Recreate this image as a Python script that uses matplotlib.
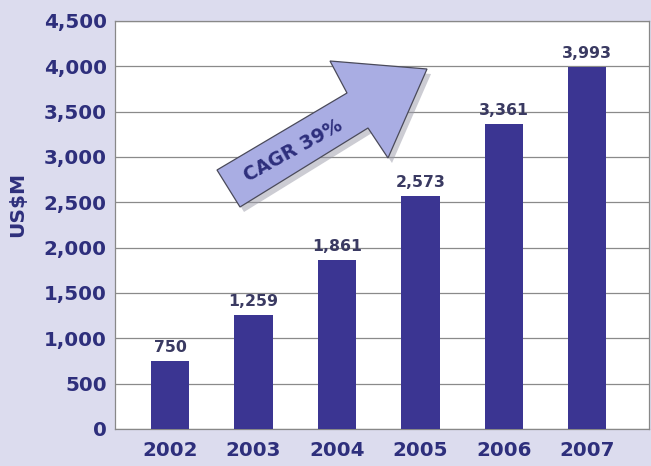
import matplotlib.pyplot as plt
from matplotlib.patches import Polygon
from matplotlib.ticker import FuncFormatter

years = ['2002', '2003', '2004', '2005', '2006', '2007']
revenue = [750, 1259, 1861, 2573, 3361, 3993]

navy = '#2e2f7c'
bar_color = '#3b3592'
bg = '#dcdcee'

plt.rcParams['font.family'] = ['DejaVu Sans']

fig = plt.figure(figsize=(6.51, 4.66), dpi=100, facecolor=bg)
ax = fig.add_axes([115 / 651, 1 - 429 / 466, 534 / 651, 408 / 466])
ax.set_facecolor('white')

x = range(len(years))
bars = ax.bar(x, revenue, width=0.46, color=bar_color, zorder=3)
for b, v in zip(bars, revenue):
    ax.text(b.get_x() + b.get_width() / 2, v + 65, f'{v:,}', ha='center', va='bottom',
            fontsize=11.3, fontweight='bold', color='#3a3a62', zorder=4)

ax.set_xlim(-0.66, 5.74)
ax.set_ylim(0, 4500)
ax.set_yticks(range(0, 4501, 500))
ax.yaxis.set_major_formatter(FuncFormatter(lambda v, p: f'{int(v):,}'))
ax.set_xticks(list(x))
ax.set_xticklabels(years)
ax.grid(axis='y', color='#8a8a8a', linewidth=0.9, zorder=0)
ax.tick_params(axis='y', length=0, labelsize=14.3, labelcolor=navy, pad=6)
ax.tick_params(axis='x', length=0, labelsize=14.3, labelcolor=navy, pad=9)
for lab in ax.get_xticklabels() + ax.get_yticklabels():
    lab.set_fontweight('bold')
for s in ax.spines.values():
    s.set_color('#888888')
    s.set_linewidth(0.9)

fig.text(18 / 651, 1 - 204 / 466, 'US$M', rotation=90, ha='center', va='center',
         fontsize=14.5, fontweight='bold', color=navy)

# CAGR arrow, in pixel coords of the figure
pts = [(217, 170), (347, 93), (330, 61), (427, 69), (388, 158), (368, 128), (240, 207)]
def to_fig(p, dx=0, dy=0):
    return ((p[0] + dx) / 651, 1 - (p[1] + dy) / 466)

shadow = Polygon([to_fig(p, 4, 5) for p in pts], closed=True, transform=fig.transFigure,
                 facecolor='#9a9aa8', edgecolor='none', alpha=0.5, zorder=5)
arrow = Polygon([to_fig(p) for p in pts], closed=True, transform=fig.transFigure,
                facecolor='#a9ade3', edgecolor='#4a4a5a', linewidth=0.9, zorder=6)
fig.patches.extend([shadow, arrow])
fig.text(293 / 651, 1 - 151 / 466, 'CAGR 39%', rotation=29, ha='center', va='center',
         fontsize=13.5, fontweight='bold', color=navy, zorder=7)

plt.savefig('out.png', dpi=100, facecolor=bg)
